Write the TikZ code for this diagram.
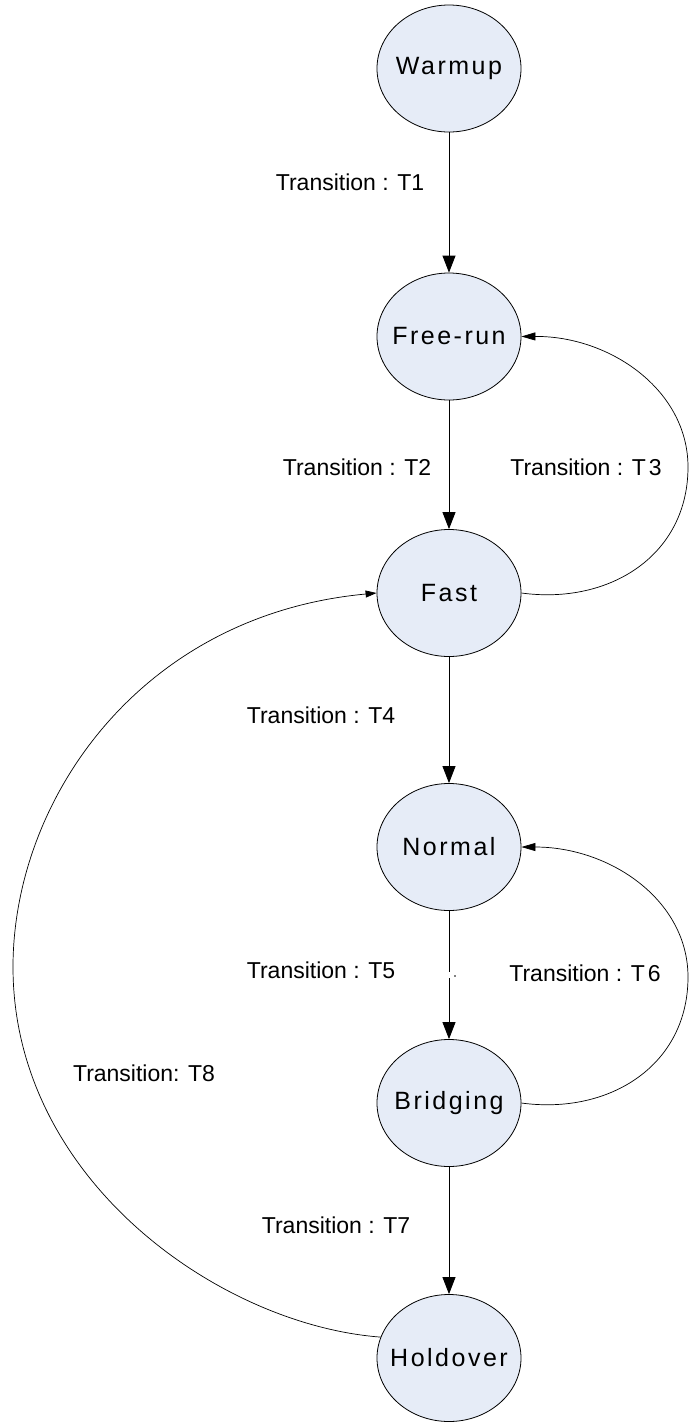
\documentclass[tikz,border=0pt]{standalone}
\usepackage{fontspec}
\setmainfont{Liberation Sans}
\newfontfamily\statefont[LetterSpace=10]{Liberation Sans}
\usetikzlibrary{arrows.meta,shapes.geometric}
\definecolor{statefill}{HTML}{E6ECF7}
\newcommand\stname[1]{\makebox[0pt][c]{#1}}
\tikzset{
  state/.style={ellipse, draw=black, line width=0.8pt, fill=statefill,
    minimum width=144pt, minimum height=127pt, inner sep=0pt,
    font=\statefont\fontsize{25}{30}\selectfont},
  lbl/.style={font=\fontsize{23}{27}\selectfont, inner sep=0pt},
  vedge/.style={line width=0.8pt, -{Triangle[length=17pt,width=13pt]}},
  loopedge/.style={line width=0.7pt, -{Triangle[length=14pt,width=8pt]}},
  bigloop/.style={line width=0.7pt, -{Triangle[length=11pt,width=7pt]}}
}
\begin{document}
\begin{tikzpicture}[x=1pt,y=-1pt]
\useasboundingbox (0,0) rectangle (689,1422);
\node[state] (warmup)   at (449,68.5) {\stname{Warmup}};
\node[state] (freerun)  at (449,336.5) {\stname{Free-run}};
\node[state] (fast)     at (449,593) {\stname{Fast}};
\node[state] (normal)   at (449,847) {\stname{Normal}};
\node[state] (bridging) at (449,1103) {\stname{Bridging}};
\node[state] (holdover) at (449,1358) {\stname{Holdover}};

\draw[vedge] (warmup) -- (freerun);
\draw[vedge] (freerun) -- (fast);
\draw[vedge] (fast) -- (normal);
\draw[vedge] (normal) -- (bridging);
\draw[vedge] (bridging) -- (holdover);

\draw[loopedge] (fast.east) .. controls (610,605) and (688,555) .. (688,467)
  .. controls (688,390) and (610,336) .. (freerun.east);
\draw[loopedge] (bridging.east) .. controls (610,1115) and (688,1065) .. (688,977)
  .. controls (688,900) and (610,847) .. (normal.east);
\draw[bigloop] (holdover.163) .. controls (220,1325) and (13,1180) .. (13,967)
  .. controls (13,800) and (140,615) .. (fast.west);

% small artefact on the T5 connector
\fill[white] (446,972) rectangle (452,977.5);
\fill[black] (455,976) circle (0.9);

\node[lbl] (t1) at (350,182) {Transition : T1};
\node[lbl] (t2) at (357,467) {Transition : T2};
\node[lbl] (t3) at (586,467) {Transition : T\kern3pt 3};
\node[lbl] (t4) at (321,715) {Transition : T4};
\node[lbl] (t5) at (321,970) {Transition : T5};
\node[lbl] (t6) at (585,973) {Transition : T\kern3pt 6};
\node[lbl] (t7) at (336,1225) {Transition : T7};
\node[lbl] (t8) at (144,1073) {Transition: T8};
\end{tikzpicture}
\end{document}
